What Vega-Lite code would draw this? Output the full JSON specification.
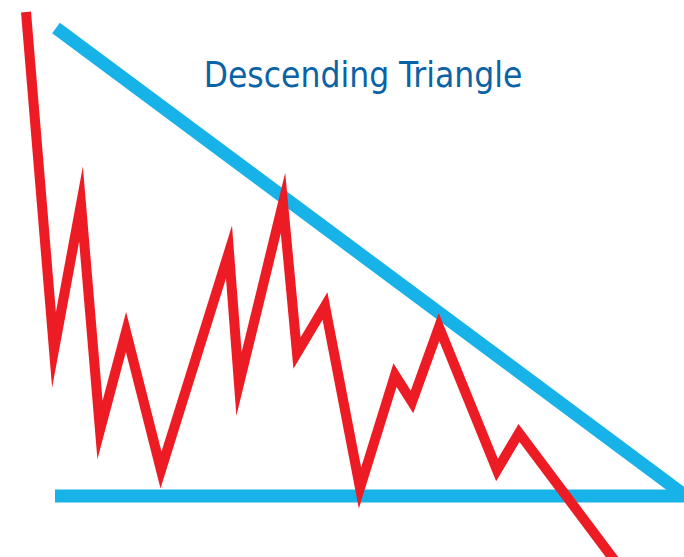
{
  "$schema": "https://vega.github.io/schema/vega-lite/v6.json",
  "width": 684,
  "height": 557,
  "padding": 0,
  "autosize": {"type": "fit", "contains": "padding"},
  "background": "white",
  "config": {"view": {"stroke": null}},
  "datasets": {
    "price": [
      {"t": 26, "price": 545},
      {"t": 54, "price": 207},
      {"t": 81, "price": 353},
      {"t": 100, "price": 127},
      {"t": 126, "price": 225},
      {"t": 161, "price": 87},
      {"t": 229, "price": 305},
      {"t": 239, "price": 173},
      {"t": 283, "price": 354},
      {"t": 297, "price": 204},
      {"t": 325, "price": 251},
      {"t": 360, "price": 69},
      {"t": 395, "price": 182},
      {"t": 412, "price": 155},
      {"t": 439, "price": 230},
      {"t": 497, "price": 87},
      {"t": 519, "price": 124},
      {"t": 618, "price": -8}
    ],
    "trend": [
      {"line": "resistance", "t": 56, "price": 529},
      {"line": "resistance", "t": 683, "price": 63},
      {"line": "support", "t": 55, "price": 61},
      {"line": "support", "t": 684, "price": 61}
    ],
    "label": [
      {"t": 363, "price": 470, "text": "Descending Triangle"}
    ]
  },
  "encoding": {
    "x": {"field": "t", "type": "quantitative", "scale": {"domain": [0, 684], "nice": false, "zero": false}, "axis": null},
    "y": {"field": "price", "type": "quantitative", "scale": {"domain": [0, 557], "nice": false, "zero": false}, "axis": null}
  },
  "layer": [
    {
      "data": {"name": "trend"},
      "mark": {"type": "line", "color": "#17B3E8", "strokeWidth": 13, "strokeCap": "butt", "clip": true},
      "encoding": {"detail": {"field": "line", "type": "nominal"}}
    },
    {
      "data": {"name": "price"},
      "mark": {"type": "line", "color": "#ED1C24", "strokeWidth": 10, "strokeCap": "butt", "strokeJoin": "miter", "strokeMiterLimit": 20, "clip": true},
      "encoding": {"order": {"field": "t", "type": "quantitative"}}
    },
    {
      "data": {"name": "label"},
      "mark": {"type": "text", "color": "#0A63A6", "font": "DejaVu Sans Condensed, Open Sans, sans-serif", "fontSize": 35, "align": "center", "baseline": "alphabetic"},
      "encoding": {"text": {"field": "text", "type": "nominal"}, "y": {"field": "price", "type": "quantitative"}}
    }
  ]
}
